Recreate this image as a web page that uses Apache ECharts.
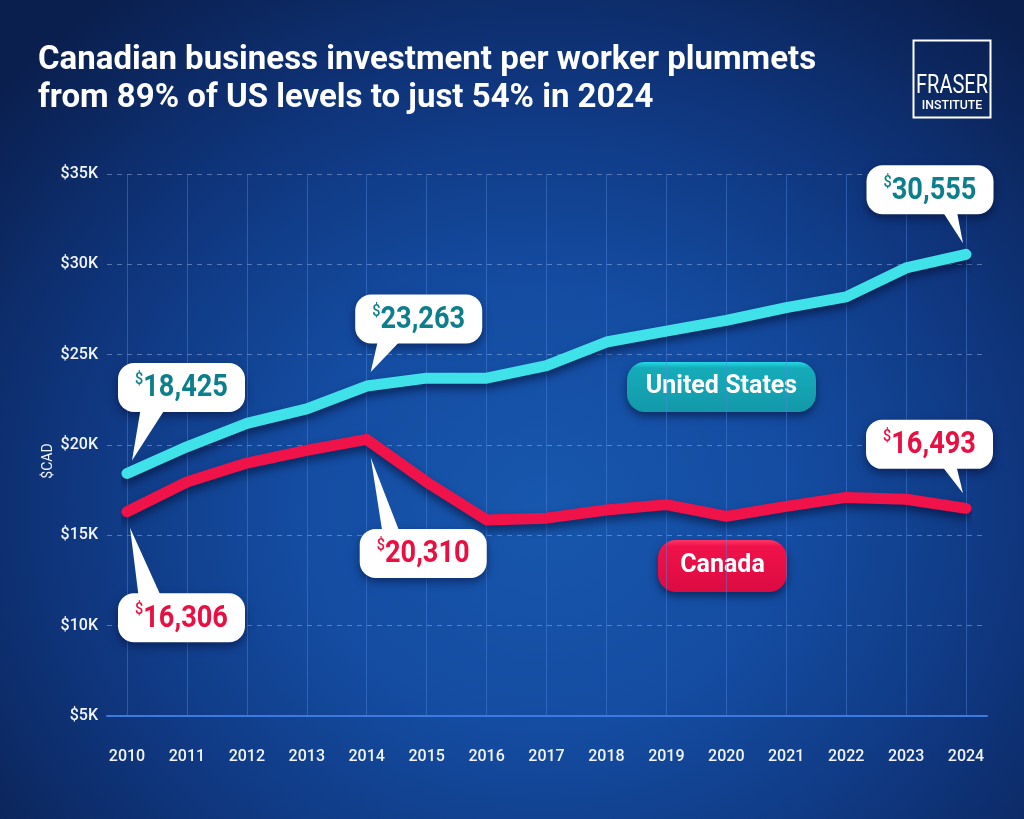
<!DOCTYPE html>
<html><head><meta charset="utf-8">
<script src="https://cdn.jsdelivr.net/npm/echarts@6/dist/echarts.min.js"></script>
<style>
html,body{margin:0;padding:0;width:1024px;height:819px;overflow:hidden;
background: radial-gradient(ellipse 70% 78% at 53% 62%, #1757ad 0%, #144ca1 35%, #0f357c 68%, #0a1f4e 100%);}
#c{width:1024px;height:819px;}
</style></head><body><div id="c"></div>
<script>
// ---- data ----
const years = ['2010','2011','2012','2013','2014','2015','2016','2017','2018','2019','2020','2021','2022','2023','2024'];
const usValues = [18425, 19900, 21200, 22000, 23263, 23700, 23700, 24400, 25700, 26300, 26900, 27600, 28200, 29800, 30555];
const canadaValues = [16306, 17950, 19000, 19700, 20310, 17950, 15850, 15950, 16400, 16700, 16050, 16600, 17100, 17000, 16493];
const yMin = 5000, yMax = 35000, yStep = 5000;
const calloutYears = ['2010', '2014', '2024'];
const seriesNames = ['United States', 'Canada'];
const titleText = 'Canadian business investment per worker plummets\nfrom 89% of US levels to just 54% in 2024';
const yAxisName = '$CAD';

// ---- styling ----
const US_LINE = '#3fe2e8', CA_LINE = '#f0134a';
const US_TEXT = '#0d7f8c', CA_TEXT = '#ea0f42';
// callout geometry (px, relative to the data point): bubble centre, tip offset, tail base range
const calloutLayout = {
  us: [
    {cx: 54.5, cy: -86, tx: 5, ty: -13, b0: -41, b1: -17},
    {cx: 52, cy: -67, tx: 4, ty: -14, b0: -41, b1: -19},
    {cx: -36, cy: -64.5, tx: -3, ty: -11, b0: 13, b1: 27}
  ],
  ca: [
    {cx: 54.5, cy: 106, tx: 3, ty: 16, b0: -43, b1: -21},
    {cx: 56.5, cy: 114, tx: 4, ty: 18, b0: -41, b1: -24},
    {cx: -36.5, cy: -64, tx: -3, ty: -15, b0: 13, b1: 27}
  ]
};
const BW = 127, BH = 49, BR = 16;

function calloutData(values) {
  return calloutYears.map(y => { const i = years.indexOf(y); return [i, values[i]]; });
}
function makeRender(layoutKey, color) {
  return function (params, api) {
    const L = calloutLayout[layoutKey][params.dataIndex];
    const p = api.coord([api.value(0), api.value(1)]);
    const cx = p[0] + L.cx, cy = p[1] + L.cy;
    const above = L.cy < 0;
    const edgeY = above ? cy + BH / 2 - 2 : cy - BH / 2 + 2;
    const txt = '{d|$}{n|' + api.value(1).toLocaleString('en-US') + '}';
    return {
      type: 'group',
      children: [
        {type: 'rect', shape: {x: cx - BW / 2, y: cy - BH / 2, width: BW, height: BH, r: BR},
         style: {fill: '#ffffff', shadowBlur: 10, shadowColor: 'rgba(0,0,30,0.45)', shadowOffsetY: 4}},
        {type: 'polygon', shape: {points: [[p[0] + L.tx, p[1] + L.ty], [cx + L.b0, edgeY], [cx + L.b1, edgeY]]},
         style: {fill: '#ffffff'}},
        {type: 'rect', shape: {x: cx - BW / 2 + 6, y: cy - BH / 2 + 3, width: BW - 12, height: BH - 6, r: BR - 4},
         style: {fill: '#ffffff'}},
        {type: 'text', x: cx, y: cy + 1, scaleX: 0.85, scaleY: 1,
         style: {x: 0, y: 0, text: txt, align: 'center', verticalAlign: 'middle',
          rich: {
            d: {fill: color, fontSize: 17, fontFamily: 'Roboto', fontWeight: 500, verticalAlign: 'top', lineHeight: 34},
            n: {fill: color, fontSize: 32, fontWeight: 'bold', fontFamily: 'Roboto', lineHeight: 34}
          }}}
      ]
    };
  };
}

const chart = echarts.init(document.getElementById('c'), null, {renderer: 'canvas'});
const gridTop = 174, gridBottom = 103;
chart.setOption({
  backgroundColor: 'transparent',
  animation: false,
  title: {
    text: titleText, left: 38, top: 42, padding: 0,
    textStyle: {color: '#ffffff', fontSize: 33, fontWeight: 'bold', fontFamily: 'Roboto', lineHeight: 38}
  },
  grid: [
    {left: 107, right: 37, top: gridTop, bottom: gridBottom},
    {left: 127, right: 58, top: gridTop, bottom: gridBottom}
  ],
  xAxis: [
    {gridIndex: 0, type: 'value', min: 0, max: 1, axisLabel: {show: false}, axisTick: {show: false},
     splitLine: {show: false}, axisLine: {show: true, lineStyle: {color: '#3c7ae0', width: 2}}},
    {gridIndex: 1, type: 'category', data: years, boundaryGap: false,
     axisLine: {show: false}, axisTick: {show: false},
     axisLabel: {color: '#f2f5fc', fontSize: 16, fontFamily: 'Roboto', fontWeight: 500, margin: 33},
     splitLine: {show: true, lineStyle: {color: 'rgba(80,135,225,0.45)', width: 1}}}
  ],
  yAxis: [
    {gridIndex: 0, type: 'value', min: yMin, max: yMax, interval: yStep,
     axisLine: {show: false}, axisTick: {show: false},
     axisLabel: {color: '#f2f5fc', fontSize: 16, fontFamily: 'Roboto', fontWeight: 500, margin: 9,
                 formatter: v => '$' + (v / 1000) + 'K'},
     splitLine: {show: true, lineStyle: {color: 'rgba(150,170,215,0.55)', width: 1, type: [5, 5]}}},
    {gridIndex: 1, type: 'value', min: yMin, max: yMax, interval: yStep, show: false, splitLine: {show: false}}
  ],
  series: [
    {name: seriesNames[0], type: 'line', xAxisIndex: 1, yAxisIndex: 1, data: usValues, symbol: 'none',
     lineStyle: {color: US_LINE, width: 11, cap: 'round', join: 'round',
                 shadowColor: 'rgba(0,10,40,0.55)', shadowBlur: 8, shadowOffsetY: 5}},
    {name: seriesNames[1], type: 'line', xAxisIndex: 1, yAxisIndex: 1, data: canadaValues, symbol: 'none',
     lineStyle: {color: CA_LINE, width: 11, cap: 'round', join: 'round',
                 shadowColor: 'rgba(0,10,40,0.55)', shadowBlur: 8, shadowOffsetY: 5}},
    {type: 'custom', xAxisIndex: 1, yAxisIndex: 1, data: calloutData(usValues), renderItem: makeRender('us', US_TEXT), z: 5, clip: false},
    {type: 'custom', xAxisIndex: 1, yAxisIndex: 1, data: calloutData(canadaValues), renderItem: makeRender('ca', CA_TEXT), z: 5, clip: false}
  ],
  graphic: [
    {type: 'text', x: 48, y: 461, rotation: Math.PI / 2,
     style: {text: yAxisName, fill: '#f2f5fc', font: '14px Roboto', align: 'center', verticalAlign: 'middle'}},
    {type: 'group', left: 911, top: 38, children: [
      {type: 'rect', shape: {x: 0, y: 0, width: 77, height: 77}, style: {fill: 'none', stroke: '#ffffff', lineWidth: 2}},
      {type: 'text', x: 38.5, y: 59, scaleX: 0.8,
       style: {text: 'FRASER', fill: '#ffffff', font: '25px Roboto', align: 'center', verticalAlign: 'bottom'}},
      {type: 'text', x: 38.5, y: 72, scaleX: 0.95,
       style: {text: 'INSTITUTE', fill: '#ffffff', font: '500 13px Roboto', align: 'center', verticalAlign: 'bottom'}}
    ]},
    {type: 'group', left: 627, top: 362, children: [
      {type: 'rect', shape: {x: 0, y: 0, width: 189, height: 50, r: 18},
       style: {fill: new echarts.graphic.LinearGradient(0, 0, 0, 1, [{offset: 0, color: '#22dae6'}, {offset: 0.12, color: '#16abb9'}, {offset: 1, color: '#1399a9'}]),
               shadowBlur: 8, shadowColor: 'rgba(0,10,40,0.55)', shadowOffsetY: 4}},
      {type: 'text', x: 94.5, y: 25, style: {text: seriesNames[0], fill: '#ffffff', font: 'bold 25px Roboto', align: 'center', verticalAlign: 'middle'}}
    ]},
    {type: 'group', left: 658, top: 540, children: [
      {type: 'rect', shape: {x: 0, y: 0, width: 129, height: 52, r: 18},
       style: {fill: new echarts.graphic.LinearGradient(0, 0, 0, 1, [{offset: 0, color: '#ff3566'}, {offset: 0.12, color: '#f0124a'}, {offset: 1, color: '#dc0b41'}]),
               shadowBlur: 8, shadowColor: 'rgba(0,10,40,0.55)', shadowOffsetY: 4}},
      {type: 'text', x: 64.5, y: 26, style: {text: seriesNames[1], fill: '#ffffff', font: 'bold 25px Roboto', align: 'center', verticalAlign: 'middle'}}
    ]}
  ]
});
</script></body></html>
